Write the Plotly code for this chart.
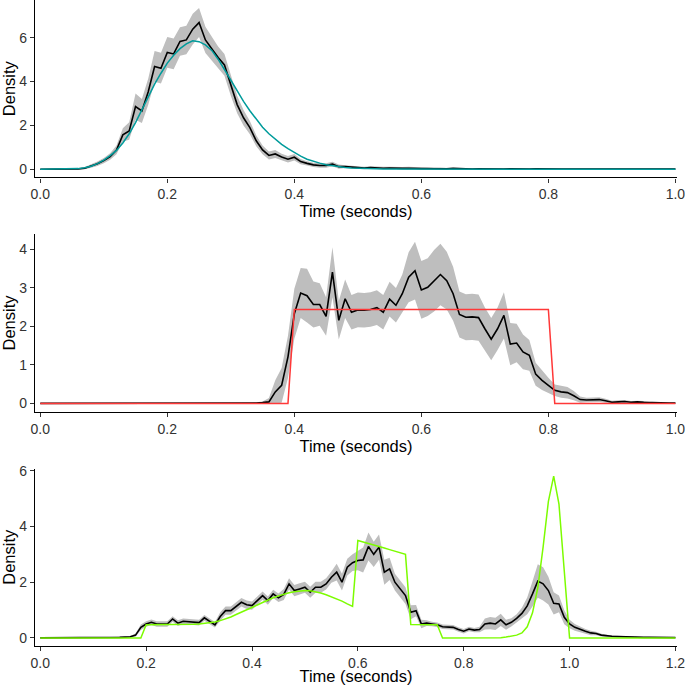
import plotly.graph_objects as go

# ---------------- data ----------------
t1 = [round(i * 0.01, 2) for i in range(101)]
emp1 = [0, 0, 0, 0, 0.005, 0.01, 0.02, 0.05, 0.15, 0.25,
        0.4, 0.58, 0.88, 1.57, 1.75, 2.86, 2.66, 3.54, 4.69, 4.61,
        5.33, 5.26, 5.83, 5.9, 6.39, 6.69, 5.9, 5.5, 5.1, 4.76,
        3.8, 2.95, 2.35, 1.9, 1.3, 0.88, 0.63, 0.7, 0.56, 0.46,
        0.55, 0.35, 0.27, 0.2, 0.17, 0.17, 0.24, 0.12, 0.12, 0.1,
        0.08, 0.06, 0.08, 0.05, 0.05, 0.06, 0.04, 0.04, 0.05, 0.03,
        0.03, 0.03, 0.02, 0.03, 0.02, 0.04, 0.02, 0.02, 0.01, 0.02,
        0.01, 0.02, 0.01, 0.01, 0.02, 0.01, 0.01, 0.01, 0.02, 0.01,
        0.01, 0.01, 0.01, 0.01, 0.01, 0.02, 0.01, 0.01, 0.01, 0.01,
        0.01, 0.01, 0.01, 0.01, 0.01, 0.01, 0.01, 0.01, 0.01, 0.01, 0.01]
ci1 = [0, 0, 0, 0, 0.02, 0.02, 0.02, 0.05, 0.08, 0.1,
       0.12, 0.15, 0.2, 0.3, 0.4, 0.6, 0.55, 0.6, 0.7, 0.7,
       0.7, 0.7, 0.65, 0.65, 0.7, 0.66, 0.6, 0.55, 0.5, 0.5,
       0.45, 0.4, 0.35, 0.3, 0.25, 0.2, 0.18, 0.18, 0.15, 0.15,
       0.15, 0.12, 0.1, 0.1, 0.1, 0.1, 0.1, 0.1, 0.06, 0.06,
       0.06, 0.06, 0.06, 0.06, 0.06, 0.06, 0.06, 0.06, 0.06, 0.06,
       0.06, 0.04, 0.04, 0.04, 0.04, 0.04, 0.04, 0.04, 0.04, 0.04,
       0.04, 0.04, 0.04, 0.04, 0.04, 0.04, 0.04, 0.04, 0.04, 0.04,
       0.04, 0.04, 0.04, 0.04, 0.04, 0.04, 0.04, 0.04, 0.04, 0.04,
       0.04, 0.04, 0.04, 0.04, 0.04, 0.04, 0.04, 0.04, 0.04, 0.04, 0.04]
model1 = [0, 0, 0, 0, 0, 0.01, 0.03, 0.07, 0.14, 0.26,
          0.42, 0.62, 0.86, 1.2, 1.62, 2.13, 2.72, 3.32, 3.88, 4.38,
          4.84, 5.2, 5.5, 5.72, 5.86, 5.82, 5.67, 5.42, 5.02, 4.55,
          4.05, 3.56, 3.1, 2.67, 2.28, 1.92, 1.62, 1.36, 1.14, 0.94,
          0.76, 0.6, 0.46, 0.36, 0.28, 0.21, 0.16, 0.11, 0.08, 0.06,
          0.045, 0.035, 0.025, 0.02, 0.015, 0.01, 0.008, 0.006, 0.005, 0.004,
          0.003, 0.002, 0.002, 0.001, 0.001, 0.001, 0, 0, 0, 0,
          0, 0, 0, 0, 0, 0, 0, 0, 0, 0,
          0, 0, 0, 0, 0, 0, 0, 0, 0, 0,
          0, 0, 0, 0, 0, 0, 0, 0, 0, 0, 0]

t2 = [round(i * 0.01, 2) for i in range(101)]
emp2 = [0] * 33 + [0.005, 0.01, 0.02, 0.04, 0.3, 0.47, 1.21,
        2.33, 2.87, 2.8, 2.57, 2.57, 2.26, 3.41, 2.16, 2.72, 2.37,
        2.43, 2.42, 2.44, 2.49, 2.37, 2.71, 2.55, 2.85, 3.28, 3.45,
        2.95, 3.02, 3.19, 3.35, 3.19, 2.85, 2.31, 2.24, 2.25, 2.23,
        1.94, 1.67, 1.94, 2.29, 1.54, 1.57, 1.34, 1.25, 0.76, 0.6,
        0.47, 0.34, 0.3, 0.28, 0.2, 0.1, 0.09, 0.09, 0.1, 0.07,
        0.03, 0.04, 0.05, 0.03, 0.04, 0.03, 0.02, 0.02, 0.01, 0.01, 0.01]
ci2 = [0] * 33 + [0.01, 0.02, 0.03, 0.1, 0.3, 0.45, 0.55,
       0.65, 0.65, 0.7, 0.6, 0.55, 0.5, 0.65, 0.5, 0.5, 0.45,
       0.45, 0.45, 0.45, 0.45, 0.45, 0.45, 0.45, 0.5, 0.65, 0.75,
       0.75, 0.75, 0.8, 0.8, 0.75, 0.7, 0.6, 0.6, 0.6, 0.6,
       0.55, 0.55, 0.55, 0.6, 0.55, 0.5, 0.45, 0.4, 0.3, 0.25,
       0.2, 0.15, 0.15, 0.15, 0.12, 0.08, 0.06, 0.06, 0.06, 0.05,
       0.04, 0.04, 0.04, 0.03, 0.03, 0.03, 0.02, 0.02, 0.02, 0.02, 0.02]
model2 = [0] * 40 + [2.44] * 41 + [0] * 20

t3 = [round(i * 0.01, 2) for i in range(121)]
emp3 = [0] * 13 + [0.01, 0.01, 0.02, 0.03, 0.04, 0.1, 0.38,
        0.5, 0.56, 0.5, 0.5, 0.5, 0.68, 0.53, 0.6, 0.58, 0.58,
        0.55, 0.72, 0.6, 0.47, 0.77, 0.98, 0.98, 1.14, 1.28, 1.19,
        1.16, 1.34, 1.52, 1.34, 1.58, 1.44, 1.56, 1.94, 1.7, 1.76,
        1.82, 1.64, 1.82, 1.82, 1.94, 2.18, 2.36, 2.0, 2.54, 2.7,
        2.78, 2.8, 3.28, 3.0, 3.26, 2.36, 2.48, 2.0, 1.76, 1.52,
        0.92, 0.98, 0.5, 0.53, 0.5, 0.47, 0.4, 0.38, 0.38, 0.3,
        0.24, 0.32, 0.28, 0.3, 0.5, 0.53, 0.5, 0.65, 0.47, 0.56,
        0.7, 0.88, 1.15, 1.58, 2.04, 1.94, 1.7, 1.24, 1.22, 0.74,
        0.5, 0.38, 0.3, 0.24, 0.18, 0.16, 0.1, 0.07, 0.06, 0.05,
        0.04, 0.03, 0.03, 0.02, 0.02, 0.02, 0.02, 0.01, 0.01, 0.01, 0.01]
ci3 = [0] * 13 + [0.02, 0.02, 0.02, 0.02, 0.02, 0.06, 0.1,
       0.1, 0.1, 0.1, 0.1, 0.1, 0.1, 0.1, 0.1, 0.1, 0.1,
       0.1, 0.1, 0.1, 0.1, 0.15, 0.15, 0.15, 0.15, 0.15, 0.15,
       0.15, 0.15, 0.15, 0.15, 0.15, 0.15, 0.2, 0.2, 0.2, 0.2,
       0.2, 0.2, 0.2, 0.2, 0.2, 0.2, 0.3, 0.3, 0.3, 0.3,
       0.35, 0.45, 0.5, 0.45, 0.45, 0.45, 0.4, 0.3, 0.3, 0.3,
       0.25, 0.2, 0.15, 0.1, 0.08, 0.08, 0.08, 0.08, 0.08, 0.08,
       0.08, 0.08, 0.08, 0.1, 0.2, 0.22, 0.22, 0.22, 0.18, 0.15,
       0.15, 0.2, 0.3, 0.45, 0.6, 0.6, 0.5, 0.4, 0.3, 0.25,
       0.15, 0.12, 0.1, 0.08, 0.08, 0.06, 0.05, 0.04, 0.03, 0.03,
       0.03, 0.02, 0.02, 0.02, 0.02, 0.02, 0.02, 0.02, 0.02, 0.02, 0.02]
model3 = [0] * 20 + [0.47, 0.47, 0.47, 0.47, 0.47, 0.47, 0.48, 0.48, 0.49, 0.49,
          0.5, 0.52, 0.54, 0.57, 0.62, 0.68, 0.75, 0.84, 0.92, 1.0,
          1.08, 1.18, 1.27, 1.36, 1.44, 1.51, 1.57, 1.62, 1.66, 1.69,
          1.7, 1.69, 1.66, 1.61, 1.55, 1.48, 1.41, 1.32, 1.22, 1.13,
          3.5, 3.45, 3.4, 3.35, 3.29, 3.23, 3.17, 3.11, 3.05, 3.0,
          0.48, 0.48, 0.48, 0.47, 0.47, 0.47,
          0, 0, 0, 0, 0, 0, 0, 0, 0, 0, 0, 0.01,
          0.03, 0.06, 0.1, 0.18, 0.4, 0.9, 1.8, 3.26, 4.9, 5.81,
          4.8, 2.4, 0] + [0] * 20

x_ticks_12 = [0.0, 0.2, 0.4, 0.6, 0.8, 1.0]
x_ticks_3 = [0.0, 0.2, 0.4, 0.6, 0.8, 1.0, 1.2]
y_ticks_1 = [0, 2, 4, 6]
y_ticks_2 = [0, 1, 2, 3, 4]
y_ticks_3 = [0, 2, 4, 6]

# ---------------- figure ----------------
RIBBON = "#BEBEBE"
panels = [
    (t1, emp1, ci1, model1, "#009B9B", "x", "y"),
    (t2, emp2, ci2, model2, "#FF3838", "x2", "y2"),
    (t3, emp3, ci3, model3, "#7CFC00", "x3", "y3"),
]

fig = go.Figure()
for t, emp, ci, model, col, xa, ya in panels:
    lo = [max(e - c, 0) if e > 0 else 0 for e, c in zip(emp, ci)]
    hi = [e + c for e, c in zip(emp, ci)]
    fig.add_trace(go.Scatter(x=t, y=lo, mode="lines", line=dict(width=0, color=RIBBON),
                             xaxis=xa, yaxis=ya, showlegend=False, hoverinfo="skip"))
    fig.add_trace(go.Scatter(x=t, y=hi, mode="lines", line=dict(width=0, color=RIBBON),
                             fill="tonexty", fillcolor=RIBBON,
                             xaxis=xa, yaxis=ya, showlegend=False, hoverinfo="skip"))
    fig.add_trace(go.Scatter(x=t, y=emp, mode="lines", line=dict(width=1.6, color="black"),
                             xaxis=xa, yaxis=ya, showlegend=False))
    fig.add_trace(go.Scatter(x=t, y=model, mode="lines", line=dict(width=1.5, color=col),
                             xaxis=xa, yaxis=ya, showlegend=False))

tickfont = dict(family="Liberation Sans, Arial, sans-serif", size=14, color="#333333")
titlefont = dict(family="Liberation Sans, Arial, sans-serif", size=16.5, color="black")

def xax(rng, ticks, anchor):
    return dict(range=rng, tickvals=ticks, ticktext=[f"{v:.1f}" for v in ticks],
                showline=True, linecolor="black", linewidth=1.3, ticks="outside",
                ticklen=4, tickwidth=1.1, tickcolor="#333333", showgrid=False,
                zeroline=False, tickfont=tickfont, anchor=anchor, automargin=False,
                ticklabeloverflow="allow",
                title=dict(text="Time (seconds)", font=titlefont, standoff=1))

def yax(rng, ticks, dom, anchor):
    return dict(range=rng, tickvals=ticks, domain=dom,
                showline=True, linecolor="black", linewidth=1.3, ticks="outside",
                ticklen=4, tickwidth=1.1, tickcolor="#333333", showgrid=False,
                zeroline=False, tickfont=tickfont, anchor=anchor, automargin=False,
                ticklabeloverflow="allow",
                title=dict(text="Density", font=titlefont, standoff=8))

fig.update_layout(
    width=685, height=685,
    margin=dict(l=34.7, r=8, t=0, b=39.3),
    paper_bgcolor="white", plot_bgcolor="white",
    xaxis=xax([-0.0083, 1.0025], x_ticks_12, "y"),
    yaxis=yax([-0.37, 7.72], y_ticks_1, [0.7254, 1.0], "x"),
    xaxis2=xax([-0.0083, 1.0025], x_ticks_12, "y2"),
    yaxis2=yax([-0.22, 4.40], y_ticks_2, [0.3624, 0.6376], "x2"),
    xaxis3=xax([-0.01, 1.203], x_ticks_3, "y3"),
    yaxis3=yax([-0.29, 6.08], y_ticks_3, [0.0, 0.2747], "x3"),
)

# remove the default 8px page margin so the figure fills the window exactly
fig.write_html("out.html", config={"displayModeBar": False},
               post_script="document.body.style.margin='0';document.body.style.overflow='hidden';")
